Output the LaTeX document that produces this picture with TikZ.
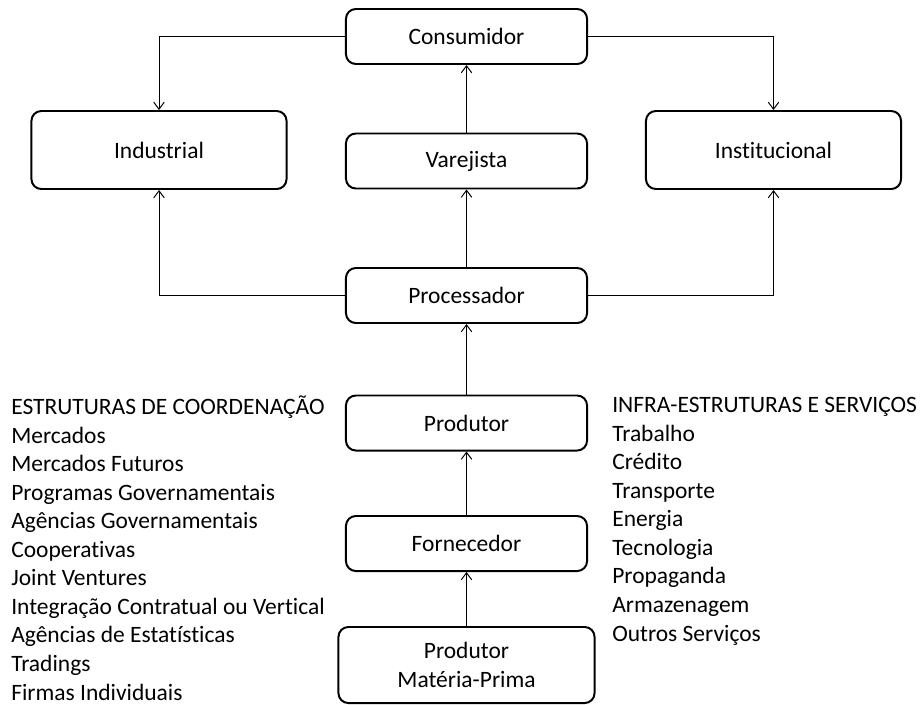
\documentclass[tikz,border=0pt]{standalone}
\usepackage{fontspec}
\setmainfont{Carlito}[Ligatures=NoCommon]
\usetikzlibrary{arrows.meta}

\tikzset{
  etapa/.style={draw, rounded corners=7pt, line width=1.4pt, align=center,
    minimum width=6.025cm, minimum height=1.375cm, inner sep=0pt},
  canal/.style={etapa, minimum width=6.375cm, minimum height=1.95cm},
  fluxo/.style={line width=0.7pt, -{Straight Barb[length=5pt,width=7.5pt]}},
  lista/.style={anchor=base west, align=left, inner sep=0pt}
}

\begin{document}
\begin{tikzpicture}[x=0.025cm, y=-0.025cm, font=\fontsize{16.7}{20.3}\selectfont]
        \useasboundingbox (0,0) rectangle (924,704);

        \begin{scope}[every node/.style={etapa}]
          \node (cons)  at (466.5,36.5) {Consumidor};
          \node (var)   at (466.5,161)  {Varejista};
          \node (proc)  at (466.5,295.5) {Processador};
          \node (prod)  at (466.5,423)  {Produtor};
          \node (forn)  at (466.5,543.5) {Fornecedor};
          \node[minimum width=6.4cm, minimum height=1.9cm] (prima) at (466.5,665) {Produtor\\Matéria-Prima};
        \end{scope}

        \node[canal] (ind)  at (159,150)   {Industrial};
        \node[canal] (inst) at (773.5,150) {Institucional};

        \begin{scope}[every path/.style={fluxo}]
          \draw (cons.west) -| (ind.north);
          \draw (cons.east) -| (inst.north);
          \draw (var)  -- (cons);
          \draw (proc) -- (var);
          \draw (proc.west) -| (ind.south);
          \draw (proc.east) -| (inst.south);
          \draw (prod) -- (proc);
          \draw (forn) -- (prod);
          \draw (prima) -- (forn);
        \end{scope}

        % base = baseline of the last line
        \node[lista] (estruturas) at (11,700) {ESTRUTURAS DE COORDENAÇÃO\\Mercados\\Mercados Futuros\\Programas Governamentais\\Agências Governamentais\\Cooperativas\\Joint Ventures\\Integração Contratual ou Vertical\\Agências de Estatísticas\\Tradings\\Firmas Individuais};
        \node[lista] (servicos) at (612,641) {INFRA-ESTRUTURAS E SERVIÇOS\\Trabalho\\Crédito\\Transporte\\Energia\\Tecnologia\\Propaganda\\Armazenagem\\Outros Serviços};

      \end{tikzpicture}
\end{document}
